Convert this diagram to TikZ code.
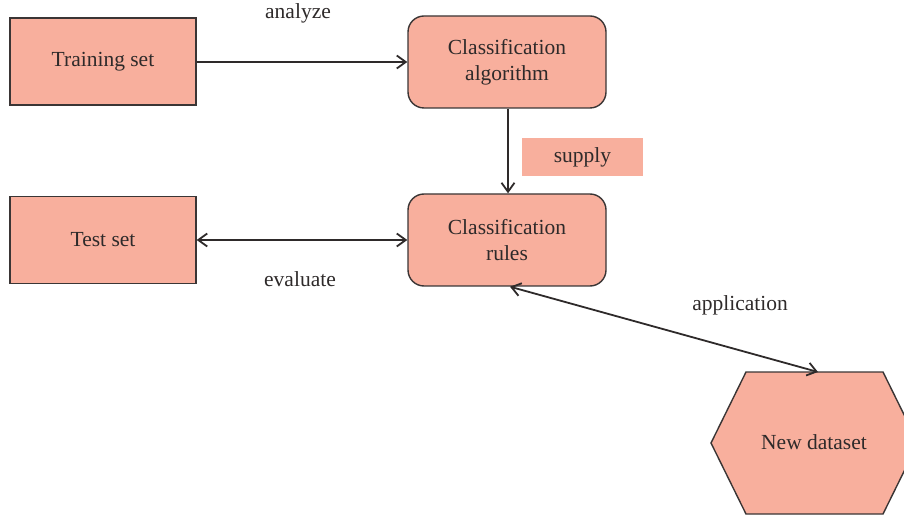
\documentclass[tikz,border=0pt]{standalone}
\usepackage{fontspec}
\setmainfont{Liberation Serif}
\usetikzlibrary{arrows.meta}
\definecolor{boxfill}{HTML}{F8AF9D}
\definecolor{boxline}{HTML}{3A3535}
\definecolor{inkgray}{HTML}{2E2A2A}
\tikzset{
  every node/.style={font=\fontsize{21.5}{26}\selectfont, text=inkgray, align=center},
  block/.style={draw=boxline, line width=1.4pt, fill=boxfill, inner sep=0pt},
  sqbox/.style={block, minimum width=186pt, minimum height=87pt},
  rbox/.style={block, rounded corners=16pt, minimum width=198pt, minimum height=92pt},
  tagbox/.style={fill=boxfill, inner sep=0pt, minimum width=121pt, minimum height=38pt},
  tip/.style={Straight Barb[length=9pt,width=13pt,line width=1.8pt]},
  link/.style={draw=inkgray, line width=1.8pt, -{Straight Barb[length=9pt,width=13pt,line width=1.8pt]}},
  duallink/.style={draw=inkgray, line width=1.8pt,
    {Straight Barb[length=9pt,width=13pt,line width=1.8pt]}-{Straight Barb[length=9pt,width=13pt,line width=1.8pt]}},
  lbl/.style={inner sep=0pt}
}
\begin{document}
\begin{tikzpicture}[x=1pt,y=-1pt]
  \useasboundingbox (0,0) rectangle (904,518);
  \clip (0,0) rectangle (904,518);

  % boxes
  \node[sqbox] (train) at (103,61.5) {Training set};
  \node[rbox]  (algo)  at (507,62)   {Classification\\algorithm};
  \node[tagbox] (supply) at (582.5,157) {supply};
  \node[sqbox] (test)  at (103,240)  {Test set};
  \node[rbox]  (rules) at (507,240)  {Classification\\rules};

  % hexagon for the new data
  \draw[boxline, line width=1.4pt, fill=boxfill]
    (746,372) -- (883,372) -- (918,443) -- (883,514) -- (746,514) -- (711,443) -- cycle;
  \node (newdata) at (814,442) {New dataset};
  \coordinate (ndtop) at (818,372);

  % connectors
  \draw[link] (train.east |- 0,62) -- (algo.west |- 0,62);
  \draw[link] ([xshift=1pt]algo.south) -- ([xshift=1pt]rules.north);
  \draw[duallink] (test.east) -- (rules.west);
  \draw[duallink] ([xshift=3pt]rules.south) -- (ndtop);

  % connector labels
  \node[lbl] (lanalyze) at (298,13) {analyze};
  \node[lbl] (levaluate) at (300,279) {evaluate};
  \node[lbl] (lapp) at (740,305) {application};
\end{tikzpicture}
\end{document}
